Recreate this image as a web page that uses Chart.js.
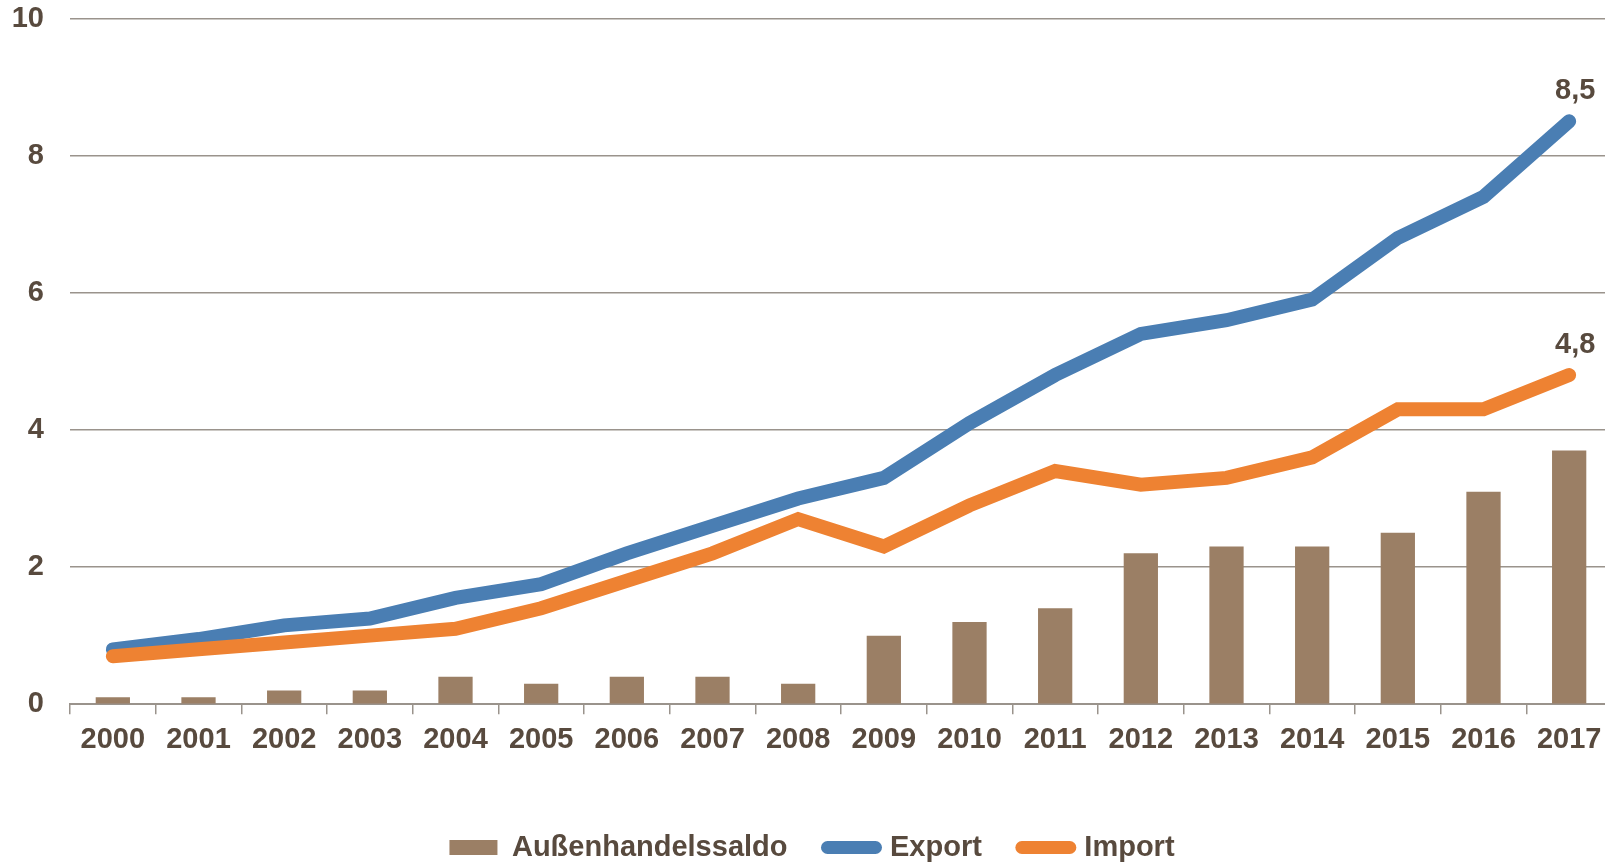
<!DOCTYPE html>
<html>
<head>
<meta charset="utf-8">
<script src="https://cdn.jsdelivr.net/npm/chart.js@4.4.1/dist/chart.umd.min.js"></script>
<style>
  html, body { margin: 0; padding: 0; background: #fff; overflow: hidden; }
  #wrap { width: 1613px; height: 863px; position: relative; }
</style>
</head>
<body>
<div id="wrap"><canvas id="myChart"></canvas></div>
<script>
var years = ['2000','2001','2002','2003','2004','2005','2006','2007','2008','2009','2010','2011','2012','2013','2014','2015','2016','2017'];
var saldo = [0.1, 0.1, 0.2, 0.2, 0.4, 0.3, 0.4, 0.4, 0.3, 1.0, 1.2, 1.4, 2.2, 2.3, 2.3, 2.5, 3.1, 3.7];
var exportData = [0.8, 0.95, 1.15, 1.25, 1.55, 1.75, 2.2, 2.6, 3.0, 3.3, 4.1, 4.8, 5.4, 5.6, 5.9, 6.8, 7.4, 8.5];
var importData = [0.7, 0.8, 0.9, 1.0, 1.1, 1.4, 1.8, 2.2, 2.7, 2.3, 2.9, 3.4, 3.2, 3.3, 3.6, 4.3, 4.3, 4.8];
var yTicks = [0, 2, 4, 6, 8, 10];

var textColor = '#584a3e';
var gridColor = '#9a938c';
var fontFamily = '"Liberation Sans", Arial, sans-serif';
var fontSize = 29;
var lineW = 14;

// label at the last point of each line
var endLabels = {
    id: 'endLabels',
    afterDatasetsDraw: function(chart){
        var ctx = chart.ctx;
        ctx.save();
        ctx.font = 'bold ' + fontSize + 'px ' + fontFamily;
        ctx.fillStyle = textColor;
        ctx.textAlign = 'center';
        ctx.textBaseline = 'alphabetic';
        chart.data.datasets.forEach(function(ds, i){
            if(ds.type !== 'line') return;
            var meta = chart.getDatasetMeta(i);
            var last = meta.data[meta.data.length-1];
            var v = ds.data[ds.data.length-1];
            ctx.fillText(v.toFixed(1).replace('.', ','), last.x + 6, last.y - 22);
        });
        ctx.restore();
    }
};

var ctx = document.getElementById('myChart').getContext('2d');
new Chart(ctx, {
    type: 'bar',
    data: {
        labels: years,
        datasets: [{
            type: 'bar',
            label: 'Außenhandelssaldo',
            data: saldo,
            backgroundColor: '#9b7f65',
            borderWidth: 0,
            barPercentage: 0.5,
            categoryPercentage: 0.8,
            order: 2
        }, {
            type: 'line',
            label: 'Export',
            data: exportData,
            borderColor: '#4a7eb3',
            backgroundColor: '#4a7eb3',
            borderWidth: lineW,
            borderCapStyle: 'round',
            borderJoinStyle: 'miter',
            pointRadius: 0,
            pointHoverRadius: 0,
            tension: 0,
            order: 1
        }, {
            type: 'line',
            label: 'Import',
            data: importData,
            borderColor: '#ee8232',
            backgroundColor: '#ee8232',
            borderWidth: lineW,
            borderCapStyle: 'round',
            borderJoinStyle: 'miter',
            pointRadius: 0,
            pointHoverRadius: 0,
            tension: 0,
            order: 0
        }]
    },
    options: {
        responsive: true,
        maintainAspectRatio: false,
        animation: false,
        layout: {
            padding: { left: 12, right: 1, top: 0, bottom: -9 }
        },
        plugins: {
            tooltip: { enabled: false },
            legend: {
                position: 'bottom',
                labels: {
                    usePointStyle: true,
                    pointStyleWidth: 48,
                    boxHeight: 15,
                    padding: 40,
                    color: textColor,
                    font: { family: fontFamily, size: fontSize, weight: 'bold' },
                    sort: function(a, b){ return a.datasetIndex - b.datasetIndex; },
                    generateLabels: function(chart){
                        var items = Chart.defaults.plugins.legend.labels.generateLabels(chart);
                        items.forEach(function(it){
                            var ds = chart.data.datasets[it.datasetIndex];
                            if(ds.type === 'line'){
                                it.pointStyle = 'line';
                                it.strokeStyle = ds.borderColor;
                                it.lineWidth = 13;
                                it.lineCap = 'round';
                            } else {
                                it.pointStyle = 'rect';
                                it.lineWidth = 0;
                            }
                        });
                        return items;
                    }
                }
            }
        },
        scales: {
            x: {
                offset: true,
                grid: {
                    offset: true,
                    drawOnChartArea: false,
                    drawTicks: true,
                    tickLength: 10,
                    color: gridColor,
                    lineWidth: 1.5
                },
                border: { display: true, color: gridColor, width: 2 },
                ticks: {
                    color: textColor,
                    padding: 8,
                    maxRotation: 0,
                    autoSkip: false,
                    font: { family: fontFamily, size: fontSize, weight: 'bold' }
                },
                afterFit: function(scale){
                    scale.height += 28;
                }
            },
            y: {
                min: yTicks[0],
                max: yTicks[yTicks.length-1],
                afterBuildTicks: function(scale){
                    scale.ticks = yTicks.map(function(v){ return {value: v}; });
                },
                afterFit: function(scale){
                    scale.width = 58;
                    scale.paddingTop = 18.5;
                    scale.paddingBottom = 0;
                },
                grid: {
                    drawTicks: false,
                    color: gridColor,
                    lineWidth: 1.5
                },
                border: { display: false },
                ticks: {
                    color: textColor,
                    padding: 26,
                    font: { family: fontFamily, size: fontSize, weight: 'bold' }
                }
            }
        }
    },
    plugins: [endLabels]
});
</script>
</body>
</html>
